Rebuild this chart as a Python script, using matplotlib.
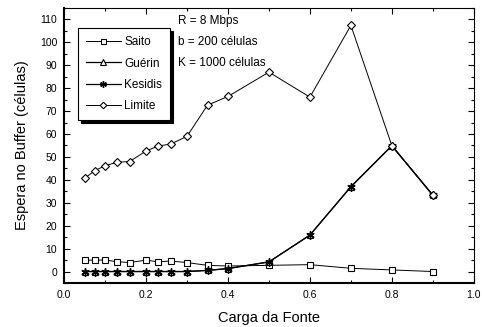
import numpy as np
import matplotlib
matplotlib.use('Agg')
import matplotlib.pyplot as plt
from matplotlib.ticker import MultipleLocator

plt.rcParams['font.family'] = ['Liberation Sans', 'DejaVu Sans']

# carga da fonte
carga = [0.05, 0.075, 0.10, 0.13, 0.16, 0.20, 0.23, 0.26, 0.30, 0.35, 0.40, 0.50, 0.60, 0.70, 0.80, 0.90]

saito = [4.9, 5.0, 5.0, 4.3, 3.9, 5.0, 4.2, 4.6, 3.9, 2.7, 2.4, 2.7, 3.0, 1.4, 0.7, 0.0]
guerin = [0, 0, 0, 0, 0, 0, 0, 0, 0, 0.5, 1.3, 4.2, 15.9, 37.0, 54.9, 33.3]
kesidis = [0, 0, 0, 0, 0, 0, 0, 0, 0, 0.5, 1.3, 4.2, 15.9, 37.0, 54.9, 33.3]
limite = [40.7, 44.0, 46.2, 47.7, 48.0, 52.6, 54.8, 55.6, 59.0, 72.6, 76.4, 87.0, 76.1, 107.4, 54.9, 33.3]

fig = plt.figure(figsize=(4.82, 3.27), dpi=100)
ax = fig.add_axes([0.133, 0.1346, 0.850, 0.841])

ax.plot(carga, saito, '-', color='k', lw=0.7, marker='s', ms=4.5, mfc='white', mec='k', mew=0.8, label='Saito')
ax.plot(carga, guerin, '-', color='k', lw=0.9, marker='^', ms=5, mfc='white', mec='k', mew=0.8, label='Guérin')
ax.plot(carga, kesidis, '-', color='k', lw=0.9, marker=(6, 2, 0), ms=6, mec='k', mew=1.0, label='Kesidis')
ax.plot(carga, limite, '-', color='k', lw=0.7, marker='D', ms=4.2, mfc='white', mec='k', mew=0.8, label='Limite')

ax.set_xlim(0, 1.0)
ax.set_ylim(-5, 115)
ax.xaxis.set_minor_locator(MultipleLocator(0.1))
ax.yaxis.set_minor_locator(MultipleLocator(5))
ax.set_yticks(np.arange(0, 111, 10))
ax.set_xticks([0.0, 0.2, 0.4, 0.6, 0.8, 1.0])
ax.set_xticklabels(['0.0', '0.2', '0.4', '0.6', '0.8', '1.0'])
ax.tick_params(which='both', direction='in', top=True, right=True, labelsize=7.5, colors='k')
ax.tick_params(which='major', length=4, width=0.8, pad=5)
ax.tick_params(which='minor', length=2, width=0.8)
for s in ['left', 'bottom']:
    ax.spines[s].set_linewidth(1.5)
for s in ['top', 'right']:
    ax.spines[s].set_linewidth(0.8)

ax.set_xlabel('Carga da Fonte', fontsize=10.5, labelpad=8)
ax.set_ylabel('Espera no Buffer (células)', fontsize=10.5, labelpad=8)

leg = ax.legend(loc='upper left', bbox_to_anchor=(0.034, 0.927), fontsize=8.5, shadow={'color': 'k', 'alpha': 1},
                fancybox=False, edgecolor='k', framealpha=1, borderpad=0.7, labelspacing=0.78,
                handlelength=2.9, handletextpad=0.3, borderaxespad=0, markerscale=0.8)
leg.get_frame().set_linewidth(0.8)

ax.text(0.278, 0.953, 'R = 8 Mbps', transform=ax.transAxes, fontsize=8.5, va='center')
ax.text(0.278, 0.876, 'b = 200 células', transform=ax.transAxes, fontsize=8.5, va='center')
ax.text(0.278, 0.800, 'K = 1000 células', transform=ax.transAxes, fontsize=8.5, va='center')

fig.savefig('out.png', dpi=100)
